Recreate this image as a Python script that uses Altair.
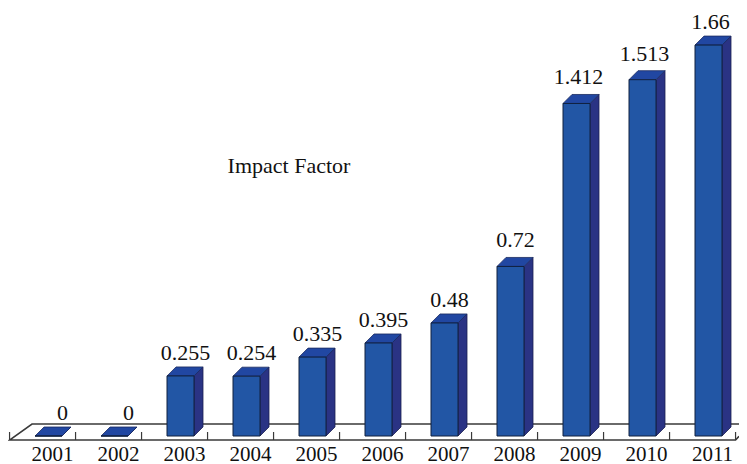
import altair as alt
import pandas as pd

years = [2001, 2002, 2003, 2004, 2005, 2006, 2007, 2008, 2009, 2010, 2011]
impact = [0, 0, 0.255, 0.254, 0.335, 0.395, 0.48, 0.72, 1.412, 1.513, 1.66]
labels = ["0", "0", "0.255", "0.254", "0.335", "0.395", "0.48", "0.72", "1.412", "1.513", "1.66"]

PXX, PXY = 66.0, 235.5
HW, DX, DY = 13.5 / PXX, 9 / PXX, 9 / PXY
XMIN = 2001 - 40.5 / PXX
XMAX = XMIN + 731 / PXX
YMIN, YMAX = -4 / PXY, 428 / PXY
FONT = "Liberation Serif"

front, side, top, text = [], [], [], []
for yr, v, lab in zip(years, impact, labels):
    l, r = yr - HW, yr + HW
    front.append(dict(x=l, b=r, y=v, y2=0))
    side += [dict(yr=yr, x=r, y=v, y2=0), dict(yr=yr, x=r + DX, y=v + DY, y2=DY)]
    top += [
        dict(yr=yr, x=l, y=v, y2=v),
        dict(yr=yr, x=l + DX, y=v, y2=v + DY),
        dict(yr=yr, x=r, y=v, y2=v + DY),
        dict(yr=yr, x=r + DX, y=v + DY, y2=v + DY),
    ]
    shift = 14 if v == 0 else (2 if v > 1 else 5)
    lift = 19 if v > 0.7 else 16
    text.append(dict(x=yr + shift / PXX, y=min(v + lift / PXY, YMAX - 21 / PXY), t=lab))

tick_x = [y - 0.59 for y in years] + [years[-1] + 0.41]
ticks = pd.DataFrame(dict(x=tick_x, y=YMIN, y2=YMIN + 8 / PXY))
floor_y = 16 / PXY + YMIN
floor = pd.DataFrame(
    dict(
        o=[0, 1, 2, 3, 4],
        x=[XMAX, XMIN + 24 / PXX, tick_x[0], tick_x[-1], XMAX],
        y=[floor_y, floor_y, YMIN, YMIN, YMIN + 3.7 / PXY],
    )
)

xs = alt.Scale(domain=[XMIN, XMAX], nice=False, zero=False)
ys = alt.Scale(domain=[YMIN, YMAX], nice=False, zero=False)
AX = alt.Axis(
    values=years,
    format="d",
    domain=False,
    ticks=False,
    grid=False,
    labelFont=FONT,
    labelFontSize=21,
    labelColor="#111111",
    labelPadding=3,
    labelOffset=3.5,
    labelOverlap=False,
    labelFlush=False,
)
X = alt.X("x:Q", scale=xs, title=None, axis=AX)
Y = alt.Y("y:Q", scale=ys, axis=None)

floor_layer = (
    alt.Chart(floor)
    .mark_line(color="#3a3a3a", strokeWidth=1.6)
    .encode(x=X, y=Y, order="o:Q")
)
tick_layer = (
    alt.Chart(ticks)
    .mark_rule(color="#3a3a3a", strokeWidth=1.2)
    .encode(x=X, y=Y, y2="y2:Q")
)
side_layer = (
    alt.Chart(pd.DataFrame(side))
    .mark_area(orient="vertical", color="#2a3384", stroke="#1a2050", strokeWidth=0.8)
    .encode(x=X, y=Y, y2="y2:Q", detail="yr:N")
)
top_layer = (
    alt.Chart(pd.DataFrame(top))
    .mark_area(orient="vertical", color="#2147a2", stroke="#1a2a60", strokeWidth=0.8)
    .encode(x=X, y=Y, y2="y2:Q", detail="yr:N")
)
front_layer = (
    alt.Chart(pd.DataFrame(front))
    .mark_rect(color="#2256a5", stroke="#10203f", strokeWidth=1)
    .encode(x=X, x2="b:Q", y=Y, y2="y2:Q")
)
text_layer = (
    alt.Chart(pd.DataFrame(text))
    .mark_text(font=FONT, fontSize=22, color="#111111", baseline="alphabetic", align="center")
    .encode(x=X, y=Y, text="t:N")
)
title_layer = (
    alt.Chart(pd.DataFrame(dict(t=["Impact Factor"])))
    .mark_text(font=FONT, fontSize=22, color="#111111", baseline="alphabetic", align="center")
    .encode(x=alt.value(281), y=alt.value(165), text="t:N")
)

chart = (
    alt.layer(floor_layer, tick_layer, side_layer, top_layer, front_layer, text_layer, title_layer)
    .properties(
        width=731,
        height=432,
        padding={"left": 0, "top": 0, "right": 0, "bottom": 24},
        autosize=alt.AutoSizeParams(type="none"),
    )
    .configure_view(stroke=None)
)

chart.save("out.html", embed_options={"renderer": "svg", "actions": False})
